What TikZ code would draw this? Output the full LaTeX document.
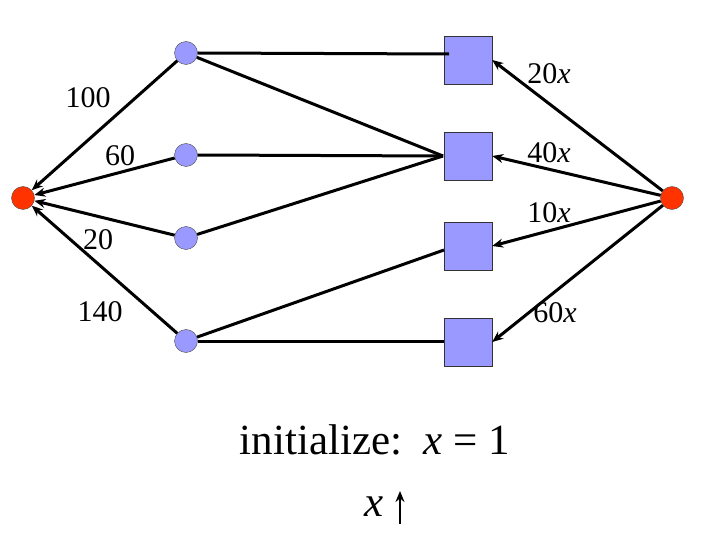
\documentclass[tikz,border=0pt]{standalone}
\usepackage{fontspec}
\setmainfont{Liberation Serif}
\usetikzlibrary{arrows.meta}
\begin{document}
\begin{tikzpicture}[x=1pt,y=-1pt,
  red/.style={circle,draw=black!70,fill={rgb,255:red,255;green,51;blue,0},minimum size=23pt,inner sep=0pt},
  blue/.style={circle,draw=black!70,fill={rgb,255:red,153;green,153;blue,255},minimum size=23pt,inner sep=0pt},
  sq/.style={rectangle,draw=black!80,fill={rgb,255:red,153;green,153;blue,255},minimum size=48pt,inner sep=0pt},
  e/.style={line width=3pt},
  a/.style={line width=3pt,-{Stealth[length=11pt,width=9pt]}},
  lab/.style={font=\fontsize{30}{32}\selectfont,inner sep=0pt}]
\useasboundingbox (0,0) rectangle (720,540);
\node[red] (s) at (23,198) {};
\node[red] (t) at (672,198) {};
\node[blue] (c1) at (186,53) {};
\node[blue] (c2) at (186,155) {};
\node[blue] (c3) at (186,238) {};
\node[blue] (c4) at (186,341) {};
\node[sq] (q1) at (468,60) {};
\node[sq] (q2) at (468,156) {};
\node[sq] (q3) at (468,246) {};
\node[sq] (q4) at (468,342) {};
\coordinate (q1i) at (449,54);
\coordinate (q2i) at (443,156);
\coordinate (q3i) at (444,250);
\coordinate (q4i) at (444,341);
\draw[e] (c1.east) -- (q1i);
\draw[e] (c1) -- (q2i);
\draw[e] (c2.east) -- (q2i);
\draw[e] (c3) -- (q2i);
\draw[e] (c4) -- (q3i);
\draw[e] (c4.east) -- (q4i);
\foreach \c in {c1,c2,c3,c4} \draw[a] (\c) -- (s);
\foreach \q in {q1,q2,q3,q4} \draw[a] (t) -- (\q.east);
\node[lab] at (88,98) {100};
\node[lab] at (120,156) {60};
\node[lab] at (98,240) {20};
\node[lab] at (100,312) {140};
\node[lab] at (549,74) {20\textit{x}};
\node[lab] at (549,153) {40\textit{x}};
\node[lab] at (549,213) {10\textit{x}};
\node[lab] at (555,313) {60\textit{x}};
\node[inner sep=0pt,font=\fontsize{43}{46}\selectfont] (init) at (375,440) {initialize:\ \ \textit{x} = 1};
\node[inner sep=0pt,font=\fontsize{43}{46}\selectfont] (xl) at (374,507) {\textit{x}};
\coordinate (u0) at (400,524);
\coordinate (u1) at (400,491);
\draw[a,line width=2.5pt] (u0) -- (u1);
\end{tikzpicture}
\end{document}
